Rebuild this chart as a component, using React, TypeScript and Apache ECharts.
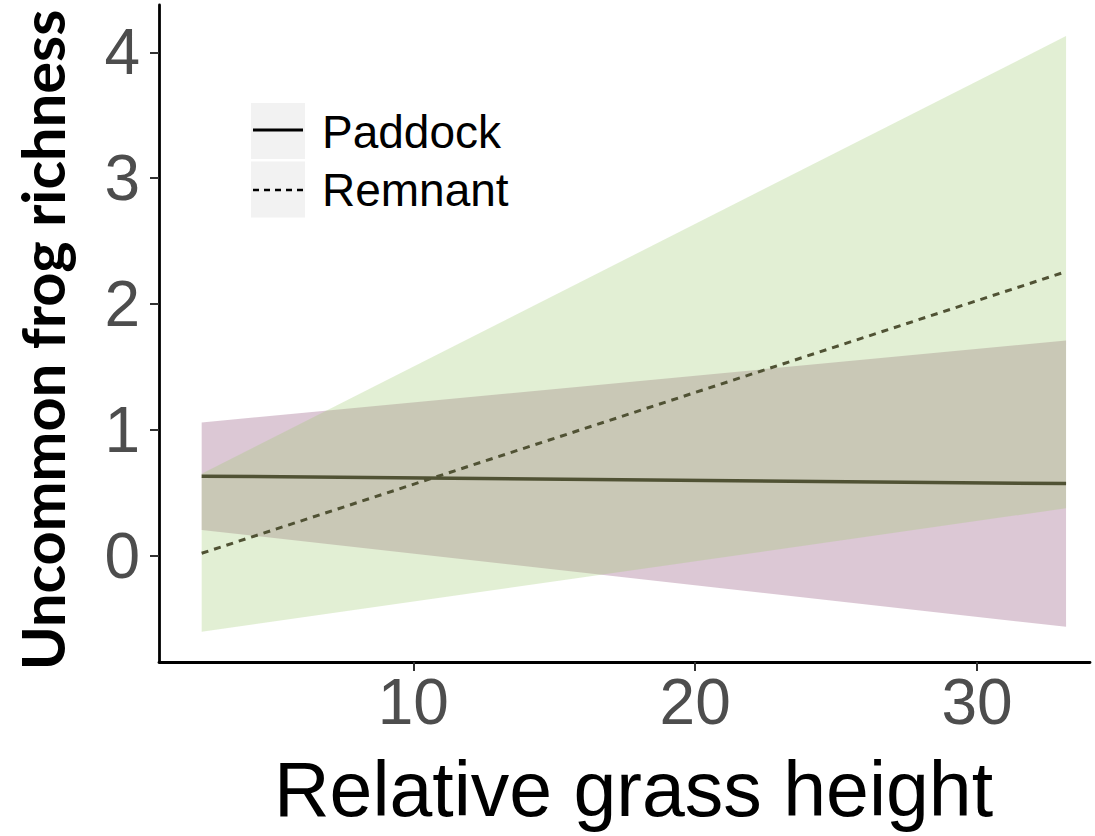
import React, { useEffect, useRef } from "react";
import * as echarts from "echarts";

// Model predictions at the two ends of the observed grass-height range
const grassHeight = [2.49, 33.16];
const paddockFit = [0.632, 0.573];
const paddockLower = [0.204, -0.565];
const paddockUpper = [1.058, 1.71];
const remnantFit = [0.019, 2.257];
const remnantLower = [-0.605, 0.377];
const remnantUpper = [0.65, 4.129];

const xTicks = [10, 20, 30];
const yTicks = [0, 1, 2, 3, 4];
const legendNames = ["Paddock", "Remnant"];

const SANS = "'Liberation Sans', Arial, Helvetica, sans-serif";
const LINE_COLOR = "#505234";

function ribbon(name: string, lower: number[], upper: number[], fill: string) {
  return {
    name,
    type: "custom",
    silent: true,
    z: 1,
    data: [[grassHeight[0], lower[0]]],
    renderItem: (_params: any, api: any) => {
      const top = grassHeight.map((x, i) => api.coord([x, upper[i]]));
      const bottom = grassHeight
        .map((x, i) => api.coord([x, lower[i]]))
        .reverse();
      return {
        type: "polygon",
        shape: { points: top.concat(bottom) },
        style: { fill, stroke: "none" },
      };
    },
  };
}

function fitLine(name: string, fit: number[], dash: any, width: number) {
  return {
    name,
    type: "line",
    z: 3,
    showSymbol: false,
    silent: true,
    data: grassHeight.map((x, i) => [x, fit[i]]),
    lineStyle: { color: LINE_COLOR, width, type: dash },
  };
}

export default function App() {
  const ref = useRef<HTMLDivElement>(null);

  useEffect(() => {
    if (!ref.current) return;
    const chart = echarts.init(ref.current, undefined, { renderer: "svg" });

    const legendX = 251;
    const legendRows = [103, 161.5];

    chart.setOption({
      animation: false,
      backgroundColor: "#ffffff",
      grid: { left: 159, right: 5, top: 5, bottom: 174, containLabel: false },
      xAxis: {
        type: "value",
        min: 0.976,
        max: 34.01,
        splitLine: { show: false },
        axisLine: { show: true, onZero: false, lineStyle: { color: "#000", width: 2.8 } },
        axisTick: {
          show: true,
          customValues: xTicks,
          length: 9,
          lineStyle: { color: "#333", width: 2 },
        },
        axisLabel: {
          customValues: xTicks,
          margin: 8,
          color: "#4d4d4d",
          fontSize: 64,
          fontFamily: SANS,
        },
        name: "Relative grass height",
        nameLocation: "middle",
        nameGap: 88,
        nameTextStyle: {
          color: "#000",
          fontSize: 77,
          fontFamily: SANS,
          padding: [0, 0, 0, 18],
        },
      },
      yAxis: {
        type: "value",
        min: -0.845,
        max: 4.376,
        splitLine: { show: false },
        axisLine: { show: true, onZero: false, lineStyle: { color: "#000", width: 2.8 } },
        axisTick: {
          show: true,
          customValues: yTicks,
          length: 9,
          lineStyle: { color: "#333", width: 2 },
        },
        axisLabel: {
          customValues: yTicks,
          margin: 19,
          color: "#4d4d4d",
          fontSize: 64,
          fontFamily: SANS,
        },
      },
      series: [
        ribbon("Paddock band", paddockLower, paddockUpper, "rgba(138,72,115,0.3)"),
        ribbon("Remnant band", remnantLower, remnantUpper, "rgba(158,202,112,0.3)"),
        fitLine(legendNames[0], paddockFit, "solid", 3.5),
        fitLine(legendNames[1], remnantFit, [7, 6], 3),
      ],
      graphic: [
        {
          type: "text",
          x: 42,
          y: 340,
          rotation: Math.PI / 2,
          style: {
            text: "Uncommon frog richness",
            fill: "#000",
            font: "bold 59.5px Lato, 'Open Sans', sans-serif",
            textAlign: "center",
            textVerticalAlign: "middle",
          },
        },
        ...legendRows.map((y) => ({
          type: "rect",
          shape: { x: legendX, y, width: 54, height: 56 },
          style: { fill: "#f2f2f2" },
        })),
        {
          type: "line",
          shape: { x1: 253, y1: 130, x2: 303, y2: 130 },
          style: { stroke: "#000", lineWidth: 3 },
        },
        {
          type: "line",
          shape: { x1: 253, y1: 190, x2: 303, y2: 190 },
          style: { stroke: "#000", lineWidth: 2.5, lineDash: [6, 5] },
        },
        ...legendNames.map((n, i) => ({
          type: "text",
          x: 322,
          y: i === 0 ? 132 : 190,
          style: {
            text: n,
            fill: "#000",
            font: `46px ${SANS}`,
            textVerticalAlign: "middle",
          },
        })),
      ],
    });

    return () => chart.dispose();
  }, []);

  return (
    <div
      ref={ref}
      style={{ position: "fixed", left: 0, top: 0, width: 1095, height: 836 }}
    />
  );
}
